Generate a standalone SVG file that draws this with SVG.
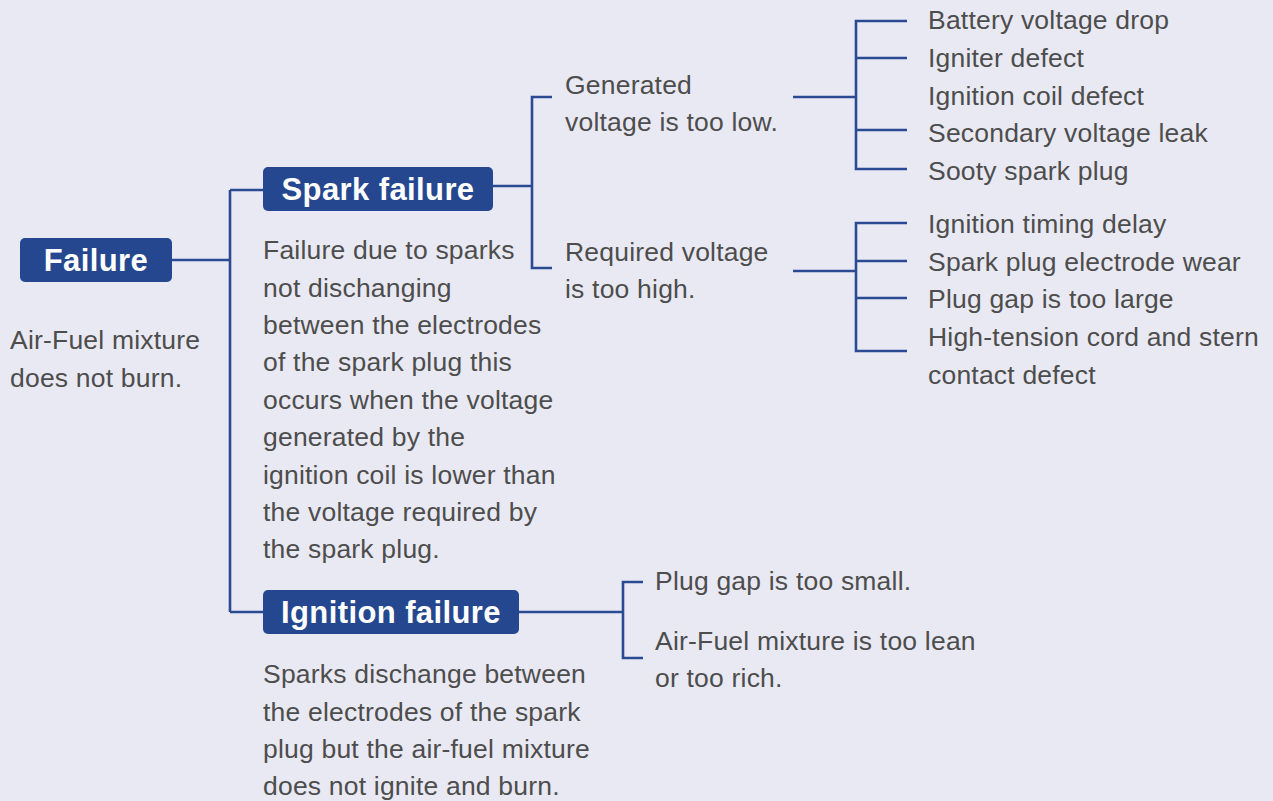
<svg xmlns="http://www.w3.org/2000/svg" width="1273" height="801" viewBox="0 0 1273 801">
<style>
.bg{fill:#E9E9F3}
.box{fill:#24478F}
.bt{font-family:"Liberation Sans",Arial,sans-serif;font-weight:bold;font-size:31px;letter-spacing:0.4px;fill:#FFFFFF;text-anchor:middle}
.t{font-family:"Liberation Sans",Arial,sans-serif;font-size:26.5px;letter-spacing:0.2px;fill:#4D4D4D}
.ln{fill:none;stroke:#2A4A94;stroke-width:2.6}
</style>
<rect class="bg" x="0" y="0" width="1273" height="801"/>
<g id="connectors">
<path class="ln" d="M172 260H230M230 190V612M230 190H263M230 612H263"/>
<path class="ln" d="M493 186H532M552 97H532V268H552"/>
<path class="ln" d="M793 97H856M907 21H856V169H907M856 58H907M856 130H907"/>
<path class="ln" d="M793 271H856M907 223H856V351H907M856 261H907M856 298H907"/>
<path class="ln" d="M519 612H623M643 582H623V658H643"/>
</g>
<g id="failure">
<rect class="box" x="20" y="238" width="152" height="44" rx="5"/>
<text class="bt" x="96" y="271">Failure</text>
<text class="t" x="10" y="349">Air-Fuel mixture</text>
<text class="t" x="10" y="387">does not burn.</text>
</g>
<g id="spark-failure">
<rect class="box" x="263" y="167" width="230" height="44" rx="5"/>
<text class="bt" x="378" y="200">Spark failure</text>
<text class="t" x="263" y="259">Failure due to sparks</text>
<text class="t" x="263" y="297">not dischanging</text>
<text class="t" x="263" y="334">between the electrodes</text>
<text class="t" x="263" y="371">of the spark plug this</text>
<text class="t" x="263" y="409">occurs when the voltage</text>
<text class="t" x="263" y="446">generated by the</text>
<text class="t" x="263" y="484">ignition coil is lower than</text>
<text class="t" x="263" y="521">the voltage required by</text>
<text class="t" x="263" y="558">the spark plug.</text>
</g>
<g id="generated-low">
<text class="t" x="565" y="94">Generated</text>
<text class="t" x="565" y="131">voltage is too low.</text>
</g>
<g id="required-high">
<text class="t" x="565" y="261">Required voltage</text>
<text class="t" x="565" y="298">is too high.</text>
</g>
<g id="low-causes">
<text class="t" x="928" y="29">Battery voltage drop</text>
<text class="t" x="928" y="67">Igniter defect</text>
<text class="t" x="928" y="105">Ignition coil defect</text>
<text class="t" x="928" y="142">Secondary voltage leak</text>
<text class="t" x="928" y="180">Sooty spark plug</text>
</g>
<g id="high-causes">
<text class="t" x="928" y="233">Ignition timing delay</text>
<text class="t" x="928" y="271">Spark plug electrode wear</text>
<text class="t" x="928" y="308">Plug gap is too large</text>
<text class="t" x="928" y="346">High-tension cord and stern</text>
<text class="t" x="928" y="384">contact defect</text>
</g>
<g id="ignition-failure">
<rect class="box" x="263" y="590" width="256" height="44" rx="5"/>
<text class="bt" x="391" y="623">Ignition failure</text>
<text class="t" x="263" y="683">Sparks dischange between</text>
<text class="t" x="263" y="721">the electrodes of the spark</text>
<text class="t" x="263" y="758">plug but the air-fuel mixture</text>
<text class="t" x="263" y="795">does not ignite and burn.</text>
</g>
<g id="ignition-causes">
<text class="t" x="655" y="590">Plug gap is too small.</text>
<text class="t" x="655" y="650">Air-Fuel mixture is too lean</text>
<text class="t" x="655" y="687">or too rich.</text>
</g>
</svg>
